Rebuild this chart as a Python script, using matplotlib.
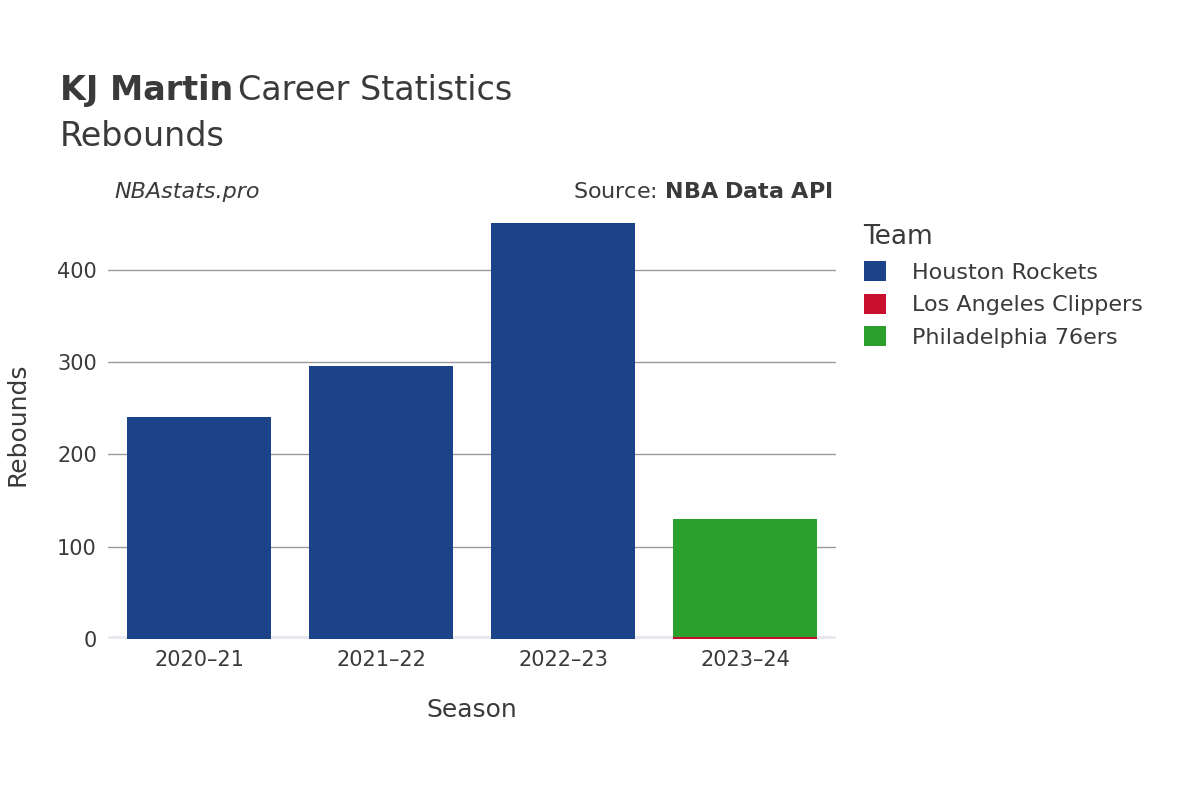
import matplotlib
matplotlib.use("Agg")
import matplotlib.pyplot as plt
import numpy as np

seasons = ["2020–21", "2021–22", "2022–23", "2023–24"]
teams = ["Houston Rockets", "Los Angeles Clippers", "Philadelphia 76ers"]
rockets = [241, 296, 451, 0]
clippers = [0, 0, 0, 2]
sixers = [0, 0, 0, 128]
colors = ["#1c4389", "#c8102e", "#2ca02c"]
yticks = [0, 100, 200, 300, 400]

TXT = "#3a3a3a"
fig = plt.figure(figsize=(12, 8), dpi=100)
ax = fig.add_axes([0.09, 0.201, 0.607, 0.538])

x = np.arange(len(seasons))
bottom = np.zeros(len(seasons))
for vals, col, name in zip([rockets, clippers, sixers], colors, teams):
    ax.bar(x, vals, bottom=bottom, width=0.79, color=col, label=name, zorder=3)
    bottom += np.array(vals)

ax.set_xlim(-0.5, 3.5)
ax.set_ylim(0, 466)
ax.set_yticks(yticks)
ax.set_xticks(x)
ax.set_xticklabels(seasons)
ax.tick_params(length=0, labelsize=15, colors=TXT, pad=8)
ax.yaxis.grid(True, color="#999999", linewidth=1, zorder=0)
ax.axhline(0, color="#e8e8ee", linewidth=5, zorder=2)
for s in ax.spines.values():
    s.set_visible(False)
ax.set_xlabel("Season", fontsize=18, color=TXT, labelpad=20)
ax.set_ylabel("Rebounds", fontsize=18, color=TXT, labelpad=20)

fig.text(0.05, 0.875, "KJ Martin", fontsize=24, fontweight="bold", color=TXT)
fig.text(0.05 + 0.1485, 0.875, "Career Statistics", fontsize=24, color=TXT)
fig.text(0.05, 0.818, "Rebounds", fontsize=24, color=TXT)
fig.text(0.095, 0.752, "NBAstats.pro", fontsize=16, style="italic", color=TXT)
fig.text(0.694, 0.752, "Source: $\\bf{NBA\\ Data\\ API}$", fontsize=16, color=TXT, ha="right")

leg = fig.legend(*ax.get_legend_handles_labels(), loc="upper left", bbox_to_anchor=(0.703, 0.745),
                 frameon=False, fontsize=16, title="Team", title_fontsize=19,
                 handlelength=1, handleheight=1, labelcolor=TXT, alignment="left",
                 handletextpad=1.2, labelspacing=0.5)
leg.get_title().set_color(TXT)

fig.savefig("out.png", dpi=100)
